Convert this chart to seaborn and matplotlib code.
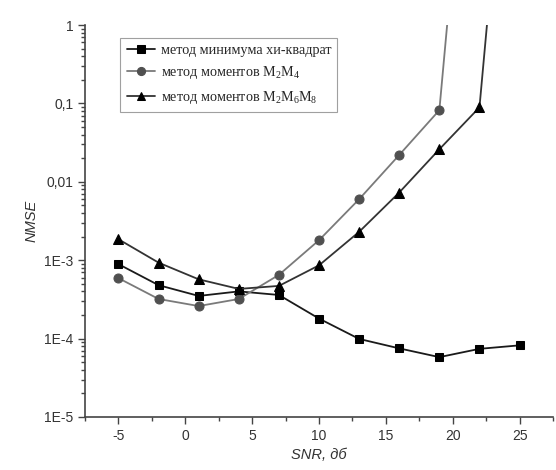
import matplotlib
matplotlib.use("Agg")
import matplotlib.pyplot as plt
import matplotlib.ticker as mticker
import seaborn as sns

# SNR values (dB) and NMSE for each estimator
snr_chi = [-5, -2, 1, 4, 7, 10, 13, 16, 19, 22, 25]
nmse_chi = [8.9e-4, 4.8e-4, 3.5e-4, 4.0e-4, 3.6e-4, 1.8e-4, 9.9e-5, 7.5e-5, 5.8e-5, 7.4e-5, 8.2e-5]

snr_m24 = [-5, -2, 1, 4, 7, 10, 13, 16, 19, 22]
nmse_m24 = [5.9e-4, 3.2e-4, 2.6e-4, 3.2e-4, 6.5e-4, 1.8e-3, 6.0e-3, 2.2e-2, 8.2e-2, 3.3e4]

snr_m268 = [-5, -2, 1, 4, 7, 10, 13, 16, 19, 22, 25]
nmse_m268 = [1.85e-3, 9.3e-4, 5.7e-4, 4.3e-4, 4.7e-4, 8.6e-4, 2.3e-3, 7.3e-3, 2.6e-2, 8.9e-2, 3.8e4]

labels = ["метод минимума хи-квадрат",
          r"метод моментов $\mathregular{M_2M_4}$",
          r"метод моментов $\mathregular{M_2M_6M_8}$"]

ytick_vals = [1e-5, 1e-4, 1e-3, 1e-2, 1e-1, 1]
ytick_labels = ["1E-5", "1E-4", "1E-3", "0,01", "0,1", "1"]

sns.set_style("ticks")
plt.rcParams['font.family'] = ['Liberation Sans', 'DejaVu Sans']
plt.rcParams['axes.unicode_minus'] = False

fig = plt.figure(figsize=(5.56, 4.7), dpi=100)
ax = fig.add_axes([0.153, 0.1128, 0.8416, 0.834])
ax.set_yscale('log')

sns.lineplot(x=snr_chi, y=nmse_chi, ax=ax, color='#1a1a1a', lw=1.3, marker='s',
             markersize=6, markerfacecolor='black', markeredgecolor='black',
             label=labels[0], sort=False)
sns.lineplot(x=snr_m24, y=nmse_m24, ax=ax, color='#7a7a7a', lw=1.3, marker='o',
             markersize=6.5, markerfacecolor='#505050', markeredgecolor='#505050',
             label=labels[1], sort=False)
sns.lineplot(x=snr_m268, y=nmse_m268, ax=ax, color='#333333', lw=1.3, marker='^',
             markersize=7, markerfacecolor='black', markeredgecolor='black',
             label=labels[2], sort=False)

ax.set_xlim(-7.5, 27.5)
ax.set_ylim(1e-5, 1)
ax.xaxis.set_major_locator(mticker.MultipleLocator(5))
ax.xaxis.set_minor_locator(mticker.MultipleLocator(2.5))
ax.yaxis.set_major_locator(mticker.FixedLocator(ytick_vals))
ax.yaxis.set_minor_locator(mticker.LogLocator(base=10, subs=range(2, 10), numticks=20))
ax.yaxis.set_minor_formatter(mticker.NullFormatter())
ax.set_yticklabels(ytick_labels)

for side in ['top', 'right']:
    ax.spines[side].set_visible(False)
for side in ['left', 'bottom']:
    ax.spines[side].set_color('#444444')
    ax.spines[side].set_linewidth(1.2)
ax.tick_params(which='major', length=5, width=1, color='#444444', labelsize=10, labelcolor='#333333')
ax.tick_params(which='minor', length=3, width=1, color='#444444')

ax.set_xlabel("SNR, дб", fontsize=10.5, style='italic', color='#333333')
ax.set_ylabel("NMSE", fontsize=10.5, style='italic', color='#333333')

leg = ax.legend(loc='upper left', bbox_to_anchor=(0.06, 0.985), frameon=True, fancybox=False,
                prop={'family': 'Liberation Serif', 'size': 10.2}, handlelength=2.0,
                handletextpad=0.4, borderpad=0.45, labelspacing=0.5, edgecolor='#888888',
                markerscale=0.9)
leg.get_frame().set_linewidth(0.8)

fig.savefig("out.png", dpi=100)
